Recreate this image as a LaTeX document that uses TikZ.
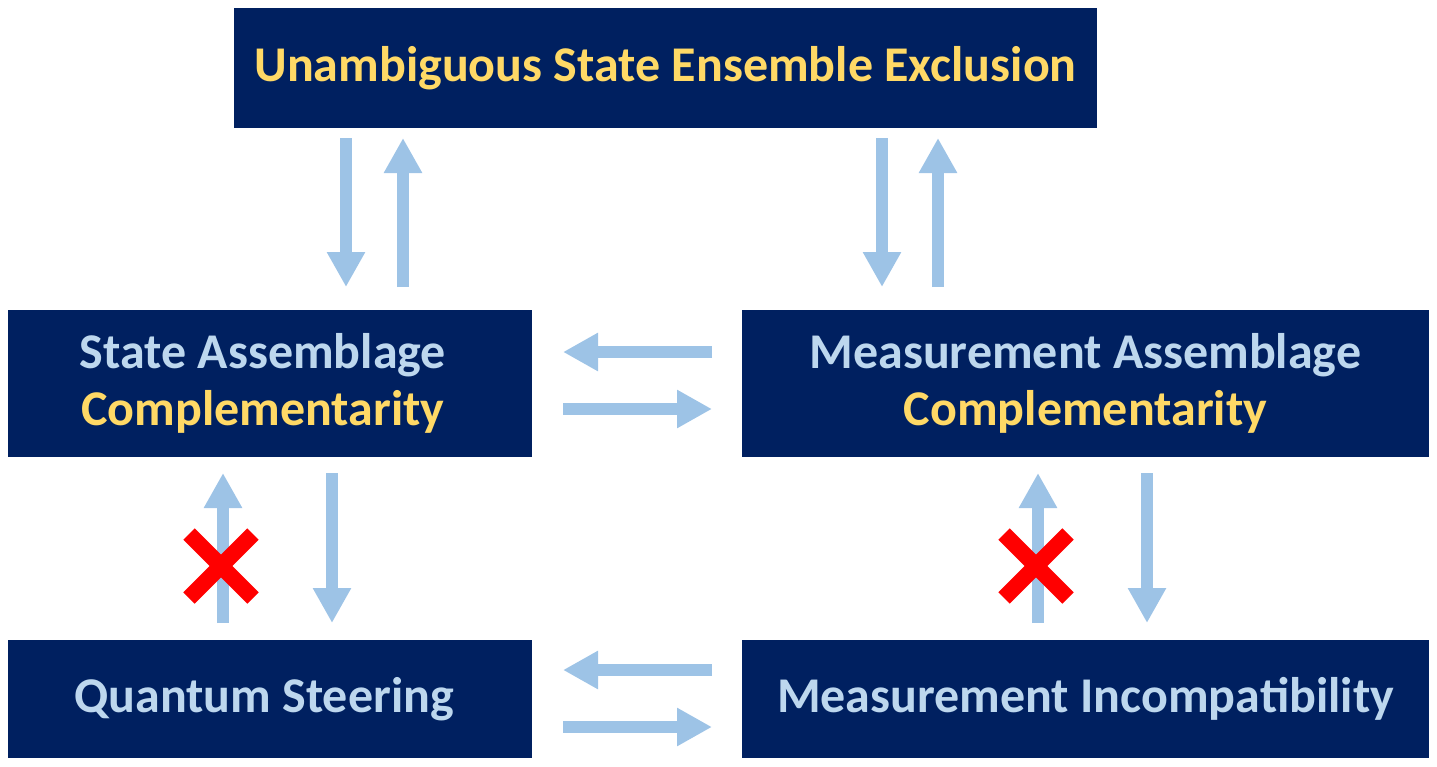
\documentclass[tikz,border=0pt]{standalone}
\usepackage{fontspec}
\setmainfont{Carlito}
\usetikzlibrary{arrows.meta}
\definecolor{boxblue}{HTML}{002060}
\definecolor{gold}{HTML}{FFD966}
\definecolor{lightb}{HTML}{BDD7EE}
\definecolor{arrowb}{HTML}{9DC3E6}
\definecolor{xred}{HTML}{FF0000}
\begin{document}
\begin{tikzpicture}[x=1pt,y=-1pt,
  box/.style={fill=boxblue,draw=none,inner sep=0pt,align=center,
    font=\fontsize{50}{57}\selectfont\bfseries},
  arr/.style={draw=arrowb,line width=12pt,
    -{Triangle[width=36pt,length=35pt]}},
  cross/.style={draw=xred,line width=16pt}]
\useasboundingbox (0,0) rectangle (1437,766);
\node[box,minimum width=863pt,minimum height=120pt,text=gold] (usee) at (665.5,68)
  {Unambiguous State Ensemble Exclusion};
\node[box,minimum width=524pt,minimum height=147pt] (sac) at (270,383.5)
  {\textcolor{lightb}{State Assemblage}\hspace*{14pt}\\\textcolor{gold}{Complementarity}\hspace*{14pt}};
\node[box,minimum width=687pt,minimum height=147pt] (mac) at (1085.5,383.5)
  {\textcolor{lightb}{Measurement Assemblage}\\\textcolor{gold}{Complementarity}};
\node[box,minimum width=524pt,minimum height=118pt,text=lightb] (qs) at (270,699)
  {Quantum Steering\hspace*{12pt}};
\node[box,minimum width=687pt,minimum height=118pt,text=lightb] (mi) at (1085.5,699)
  {Measurement Incompatibility};
% coordinates
\coordinate (a1t) at (346,138); \coordinate (a1b) at (346,287);
\coordinate (a2t) at (403,138); \coordinate (a2b) at (403,287);
\coordinate (a3t) at (882,138); \coordinate (a3b) at (882,287);
\coordinate (a4t) at (938,138); \coordinate (a4b) at (938,287);
\coordinate (h1l) at (563,352); \coordinate (h1r) at (712,352);
\coordinate (h2l) at (563,409); \coordinate (h2r) at (712,409);
\coordinate (h3l) at (563,670); \coordinate (h3r) at (712,670);
\coordinate (h4l) at (563,727); \coordinate (h4r) at (712,727);
\coordinate (v1t) at (223,473); \coordinate (v1b) at (223,623);
\coordinate (v2t) at (332,473); \coordinate (v2b) at (332,623);
\coordinate (v3t) at (1038,473); \coordinate (v3b) at (1038,623);
\coordinate (v4t) at (1147,473); \coordinate (v4b) at (1147,623);
\draw[arr] (a1t) -- (a1b);
\draw[arr] (a2b) -- (a2t);
\draw[arr] (a3t) -- (a3b);
\draw[arr] (a4b) -- (a4t);
\draw[arr] (h1r) -- (h1l);
\draw[arr] (h2l) -- (h2r);
\draw[arr] (h3r) -- (h3l);
\draw[arr] (h4l) -- (h4r);
\draw[arr] (v1b) -- (v1t);
\draw[arr] (v2t) -- (v2b);
\draw[arr] (v3b) -- (v3t);
\draw[arr] (v4t) -- (v4b);
% crosses
\coordinate (x1) at (221,566);
\coordinate (x2) at (1036,566);
\draw[cross] ([shift={(-32,-32)}]x1) -- ([shift={(32,32)}]x1);
\draw[cross] ([shift={(-32,32)}]x1) -- ([shift={(32,-32)}]x1);
\draw[cross] ([shift={(-32,-32)}]x2) -- ([shift={(32,32)}]x2);
\draw[cross] ([shift={(-32,32)}]x2) -- ([shift={(32,-32)}]x2);
\end{tikzpicture}
\end{document}
